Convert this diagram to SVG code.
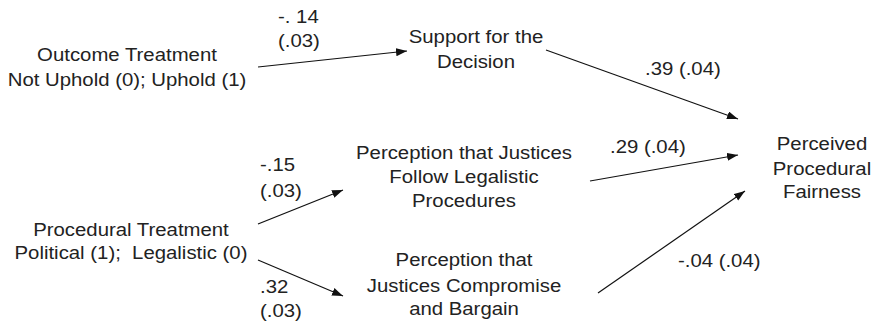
<svg xmlns="http://www.w3.org/2000/svg" width="874" height="325" viewBox="0 0 874 325">
<defs>
<style>
text{font-family:"Liberation Sans",Arial,sans-serif;font-size:18.5px;fill:#222;}
.c{text-anchor:middle;}
.e{stroke:#111;stroke-width:1.2;fill:none;marker-end:url(#ah);}
</style>
<marker id="ah" markerUnits="userSpaceOnUse" markerWidth="12" markerHeight="10" refX="11" refY="4" orient="auto">
<path d="M0,0 L11,4 L0,8 Z" fill="#111"/>
</marker>
</defs>
<rect width="874" height="325" fill="#fff"/>
<g transform="scale(1.1,1)">
<g id="outcome">
<text class="c" x="115.45" y="61">Outcome Treatment</text>
<text class="c" x="115.45" y="86">Not Uphold (0); Uphold (1)</text>
</g>
<g id="procedural">
<text class="c" x="119.09" y="236">Procedural Treatment</text>
<text class="c" x="119.09" y="259">Political (1);&#160; Legalistic (0)</text>
</g>
<g id="support">
<text class="c" x="432.73" y="43">Support for the</text>
<text class="c" x="432.73" y="68">Decision</text>
</g>
<g id="legalistic">
<text class="c" x="421.82" y="159">Perception that Justices</text>
<text class="c" x="421.82" y="183">Follow Legalistic</text>
<text class="c" x="421.82" y="207">Procedures</text>
</g>
<g id="compromise">
<text class="c" x="421.82" y="266">Perception that</text>
<text class="c" x="421.82" y="292">Justices Compromise</text>
<text class="c" x="421.82" y="315">and Bargain</text>
</g>
<g id="fairness">
<text class="c" x="747.27" y="150">Perceived</text>
<text class="c" x="747.27" y="175">Procedural</text>
<text class="c" x="747.27" y="198">Fairness</text>
</g>
</g>
<g id="connectors">
<line class="e" x1="258" y1="67" x2="407" y2="51"/>
<line class="e" x1="546" y1="50" x2="738" y2="119"/>
<line class="e" x1="258" y1="224" x2="343" y2="190"/>
<line class="e" x1="258" y1="260" x2="343" y2="296"/>
<line class="e" x1="590" y1="181" x2="738" y2="155"/>
<line class="e" x1="598" y1="293" x2="745" y2="191"/>
<g transform="scale(1.1,1)">
<text x="252.73" y="23">-. 14</text>
<text x="252.73" y="47">(.03)</text>
<text x="586.36" y="75">.39 (.04)</text>
<text x="236.36" y="171">-.15</text>
<text x="236.36" y="197">(.03)</text>
<text x="236.36" y="293">.32</text>
<text x="236.36" y="317">(.03)</text>
<text x="554.55" y="153">.29 (.04)</text>
<text x="616.36" y="267">-.04 (.04)</text>
</g>
</g>
</svg>
